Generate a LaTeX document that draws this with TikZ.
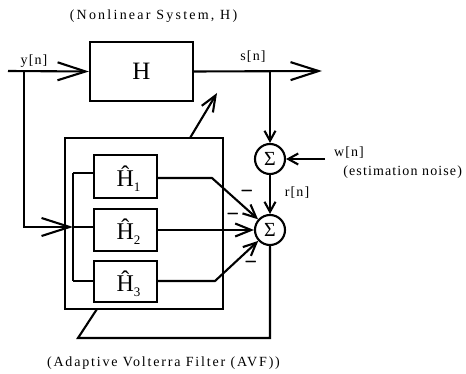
\documentclass[tikz,border=0pt]{standalone}
\usepackage{fontspec}
\setmainfont{Liberation Serif}
\newfontfamily\lsTitle[LetterSpace=16]{Liberation Serif}
\newfontfamily\lsCap[LetterSpace=13]{Liberation Serif}
\newfontfamily\lsLbl[LetterSpace=8]{Liberation Serif}
\newfontfamily\lsNoise[LetterSpace=8]{Liberation Serif}
\usetikzlibrary{arrows.meta}
\newcommand{\hatH}[1]{\hspace*{6pt}Ĥ\raisebox{-5pt}{\fontsize{13}{13}\selectfont #1}}
\newcommand{\minussign}{\scalebox{1}[2.2]{$-$}}
\begin{document}
\begin{tikzpicture}[x=1pt,y=-1pt,line width=2.1pt,
  blk/.style={draw,inner sep=0pt},
  sub/.style={blk,minimum width=63pt,text height=23pt,text depth=3pt,font=\fontsize{24}{24}\selectfont},
  sum/.style={draw,circle,minimum size=30pt,inner sep=0pt,font=\fontsize{20}{20}\selectfont},
  big/.style={-{Straight Barb[length=28pt,width=18pt]}},
  mid/.style={-{Straight Barb[length=16pt,width=13pt]}},
  dia/.style={-{Straight Barb[length=13pt,width=12pt]}},
  small/.style={-{Straight Barb[length=10pt,width=11pt]}},
  lbl/.style={inner sep=0pt,font=\lsLbl\fontsize{14}{14}\selectfont},
  mn/.style={inner sep=0pt,font=\fontsize{18}{18}\selectfont}]
\useasboundingbox (0,0) rectangle (466,374);

% nodes
\node[blk,minimum width=103pt,minimum height=59pt,font=\fontsize{25}{25}\selectfont] (H) at (141.5,71.5) {H};
\node[blk,minimum width=158pt,minimum height=171pt] (avf) at (144,223.5) {};
\node[sub,minimum height=43pt] (h1) at (125.5,176.5) {\hatH{1}};
\node[sub,minimum height=42pt] (h2) at (125.5,230) {\hatH{2}};
\node[sub,minimum height=41pt] (h3) at (125.5,281.5) {\hatH{3}};
\node[sum] (s1) at (270,159) {Σ};
\node[sum] (s2) at (270,230) {Σ};

% labels
\node[inner sep=0pt,font=\lsTitle\fontsize{14}{14}\selectfont] (title) at (153.5,16) {(Nonlinear System, H)};
\node[inner sep=0pt,font=\lsCap\fontsize{14}{14}\selectfont] (caption) at (163.5,363) {(Adaptive Volterra Filter (AVF))};
\node[lbl] (ly) at (34,61) {y[n]};
\node[lbl] (ls) at (253,57) {s[n]};
\node[lbl,anchor=west] (lw) at (333,153) {w[n]};
\node[inner sep=0pt,font=\lsNoise\fontsize{14}{14}\selectfont,anchor=east] (ln) at (463,172) {(estimation noise)};
\node[lbl] (lr) at (297,193) {r[n]};
\node[mn] (m1) at (247,191) {\minussign};
\node[mn] (m2) at (233,214) {\minussign};
\node[mn] (m3) at (251,262) {\minussign};

% coordinates
\coordinate (yin) at (8,71);
\coordinate (yj) at (24,71);
\coordinate (sout) at (322,71);
\coordinate (sj) at (270,71);
\coordinate (win) at (325,159);
\coordinate (ij) at (73,227);
\coordinate (i1) at (73,173);
\coordinate (i3) at (73,281);
\coordinate (o1) at (212,178);
\coordinate (o3) at (215,281);
\coordinate (fb1) at (270,338);
\coordinate (fb2) at (78,338);
\coordinate (fb3) at (97,309);
\coordinate (ad1) at (190,138);
\coordinate (ad2) at (217,93);

% connectors
\draw[big] (yin) -- (H.west);
\draw[big] (H.east) -- (sout);
\draw[small] (sj) -- (s1.north);
\draw[small] (win) -- (s1.east);
\draw[small] (s1.south) -- (s2.north);
\draw[big] (yj) |- (ij);
\draw (i1) -- (i3);
\draw (i1) -- (h1.west |- i1);
\draw (ij) -- (h2.west |- ij);
\draw (i3) -- (h3.west |- i3);
\draw[dia] (h1.east |- o1) -- (o1) -- (s2);
\draw[mid] (h2.east) -- (s2.west);
\draw[dia] (h3.east |- o3) -- (o3) -- (s2);
\draw (s2.south) -- (fb1) -- (fb2) -- (fb3);
\draw[mid] (ad1) -- (ad2);
\end{tikzpicture}
\end{document}
